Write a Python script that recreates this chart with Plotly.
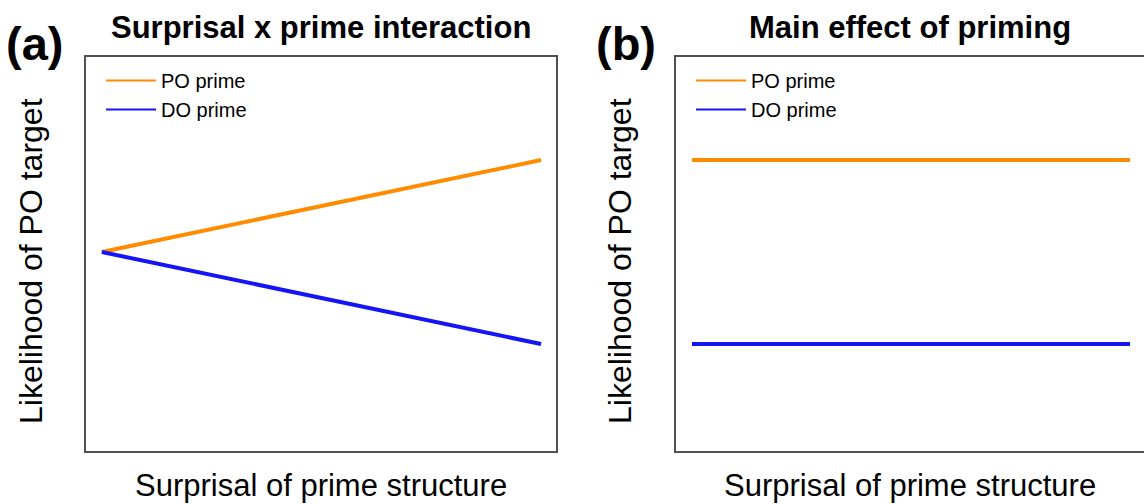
import plotly.graph_objects as go

W, H = 1144, 504

# data
surprisal = [0, 1]
a_po = [0, 1]
a_do = [0, -1]
b_po = [1, 1]
b_do = [-1, -1]
series_names = ["PO prime", "DO prime"]
panel_titles = ["Surprisal x prime interaction", "Main effect of priming"]
panel_tags = ["(a)", "(b)"]
x_title = "Surprisal of prime structure"
y_title = "Likelihood of PO target"

ORANGE = "#FF8C00"
BLUE = "#1414F5"
FONT = "Liberation Sans, Arial, sans-serif"

def px(x):
    return x / W

def py(y):
    return 1 - y / H

fig = go.Figure()

# main lines
fig.add_trace(go.Scatter(x=surprisal, y=a_po, mode="lines", line=dict(color=ORANGE, width=4),
                         xaxis="x", yaxis="y", showlegend=False))
fig.add_trace(go.Scatter(x=surprisal, y=a_do, mode="lines", line=dict(color=BLUE, width=4),
                         xaxis="x", yaxis="y", showlegend=False))
fig.add_trace(go.Scatter(x=surprisal, y=b_po, mode="lines", line=dict(color=ORANGE, width=4),
                         xaxis="x2", yaxis="y2", showlegend=False))
fig.add_trace(go.Scatter(x=surprisal, y=b_do, mode="lines", line=dict(color=BLUE, width=4),
                         xaxis="x2", yaxis="y2", showlegend=False))

# legend entries (thin lines)
for leg, xa, ya in [("legend", "x", "y"), ("legend2", "x2", "y2")]:
    for name, col in zip(series_names, [ORANGE, BLUE]):
        fig.add_trace(go.Scatter(x=[None], y=[None], mode="lines", name=name,
                                 line=dict(color=col, width=2), xaxis=xa, yaxis=ya,
                                 legend=leg, showlegend=True))

ydom = [py(451), py(57)]
axis_common = dict(showgrid=False, zeroline=False, showticklabels=False, ticks="",
                   showline=True, linecolor="#505050", linewidth=2)

leg_common = dict(xanchor="left", yanchor="top", bgcolor="rgba(0,0,0,0)",
                  font=dict(size=20, family=FONT), itemwidth=50, tracegroupgap=0)

fig.update_layout(
    width=W, height=H,
    margin=dict(l=0, r=0, t=0, b=0),
    paper_bgcolor="white", plot_bgcolor="white",
    font=dict(family=FONT, color="black"),
    xaxis=dict(domain=[px(86), px(556)], range=[-0.036, 1.034], anchor="y", mirror=True, **axis_common),
    yaxis=dict(domain=ydom, range=[-2.163, 2.12], anchor="x", mirror=True, **axis_common),
    xaxis2=dict(domain=[px(676), 1.0], range=[-0.0365, 1.032], anchor="y2", mirror=True, **axis_common),
    yaxis2=dict(domain=ydom, range=[-2.163, 2.12], anchor="x2", mirror=False, **axis_common),
    legend=dict(x=px(101), y=py(61), **leg_common),
    legend2=dict(x=px(691), y=py(61), **leg_common),
)

annotations = []
for cx, tag_x, tag, title in [(321, 34, panel_tags[0], panel_titles[0]),
                              (910, 626, panel_tags[1], panel_titles[1])]:
    annotations.append(dict(x=px(cx), y=py(27), xref="paper", yref="paper", text="<b>%s</b>" % title,
                            showarrow=False, xanchor="center", yanchor="middle",
                            font=dict(size=31, family=FONT)))
    annotations.append(dict(x=px(tag_x), y=py(43), xref="paper", yref="paper", text="<b>%s</b>" % tag,
                            showarrow=False, xanchor="center", yanchor="middle",
                            font=dict(size=47, family=FONT)))
    annotations.append(dict(x=px(cx), y=py(485), xref="paper", yref="paper", text=x_title,
                            showarrow=False, xanchor="center", yanchor="middle",
                            font=dict(size=31, family=FONT)))
    annotations.append(dict(x=px(cx - 290), y=py(261), xref="paper", yref="paper", text=y_title,
                            showarrow=False, xanchor="center", yanchor="middle", textangle=-90,
                            font=dict(size=32, family=FONT)))
fig.update_layout(annotations=annotations)

fig.write_html("out.html")
